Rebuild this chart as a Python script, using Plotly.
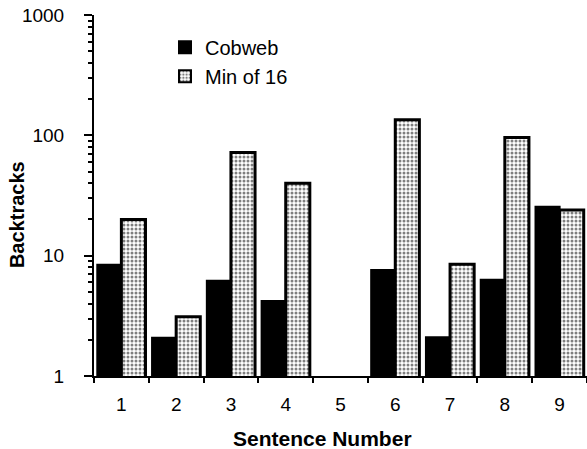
import plotly.graph_objects as go

categories = ["1", "2", "3", "4", "5", "6", "7", "8", "9"]
cobweb = [8.4, 2.08, 6.2, 4.2, None, 7.6, 2.1, 6.3, 25.5]
min_of_16 = [20, 3.1, 72, 40, None, 135, 8.5, 96, 24]
y_ticks = [1, 10, 100, 1000]
minor_ticks = [m * d for d in (1, 10, 100) for m in range(2, 10)]

fig = go.Figure()
fig.add_trace(go.Bar(
    x=categories, y=cobweb, name="Cobweb",
    marker=dict(color="black", line=dict(color="black", width=2)),
))
fig.add_trace(go.Bar(
    x=categories, y=min_of_16, name="Min of 16",
    marker=dict(color="white", line=dict(color="black", width=3),
                pattern=dict(shape=".", fgcolor="black", bgcolor="white",
                             size=4, solidity=0.45, fillmode="overlay")),
))
# invisible helper trace to carry the minor-tick axis
fig.add_trace(go.Scatter(x=[categories[0]], y=[1], yaxis="y2", mode="markers",
                         marker=dict(opacity=0), showlegend=False,
                         hoverinfo="skip"))

font = "Liberation Sans, Arial, Helvetica, sans-serif"
fig.update_layout(
    width=587, height=449,
    margin=dict(l=94, r=0, t=15, b=73, autoexpand=False),
    paper_bgcolor="white", plot_bgcolor="white",
    barmode="group", bargap=0.12, bargroupgap=0,
    font=dict(family=font, size=19, color="black"),
    showlegend=True,
    legend=dict(x=0.144, y=0.965, xanchor="left", yanchor="top",
                bgcolor="rgba(0,0,0,0)", font=dict(size=20),
                itemsizing="constant", tracegroupgap=0),
    xaxis=dict(
        type="category", range=[-0.5, 8.5], automargin=False,
        showline=True, linecolor="black", linewidth=2,
        ticks="outside", tickson="boundaries", ticklen=5, tickwidth=2,
        tickcolor="black", showgrid=False, zeroline=False,
        tickfont=dict(size=19), ticklabelstandoff=10,
    ),
    yaxis=dict(
        type="log", range=[0, 3], automargin=False,
        tickvals=y_ticks, ticktext=[str(v) for v in y_ticks],
        showline=True, linecolor="black", linewidth=2,
        ticks="outside", ticklen=8, tickwidth=2, tickcolor="black",
        showgrid=False, zeroline=False,
        tickfont=dict(size=19), ticklabelstandoff=16,
    ),
    yaxis2=dict(
        type="log", range=[0, 3], overlaying="y", side="left", automargin=False,
        tickvals=minor_ticks, showticklabels=False,
        ticks="outside", ticklen=5, tickwidth=2, tickcolor="black",
        showline=False, showgrid=False, zeroline=False,
    ),
    annotations=[
        dict(text="<b>Sentence Number</b>", xref="paper", yref="paper",
             x=0.464, y=-0.172, xanchor="center", yanchor="middle",
             showarrow=False, font=dict(size=21)),
        dict(text="<b>Backtracks</b>", xref="paper", yref="paper",
             x=-0.156, y=0.446, xanchor="center", yanchor="middle",
             textangle=-90, showarrow=False, font=dict(size=20)),
    ],
)

fig.write_html("out.html", config={"displayModeBar": False},
               post_script="document.body.style.margin='0';")
